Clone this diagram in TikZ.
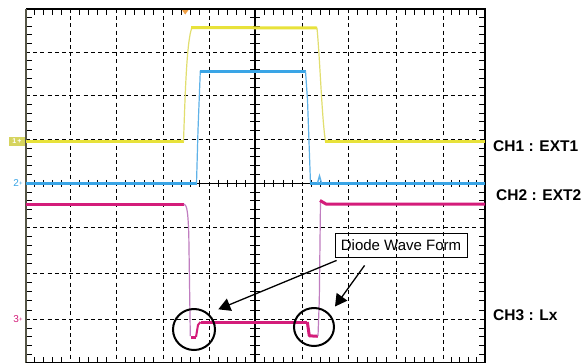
\documentclass[tikz,border=0pt]{standalone}
\usepackage{fontspec}
\setmainfont{Liberation Sans}
\usetikzlibrary{arrows.meta,shapes.geometric}
\definecolor{ytrace}{RGB}{232,226,58}
\definecolor{yedgec}{RGB}{225,222,110}
\definecolor{btrace}{RGB}{58,165,230}
\definecolor{bedgec}{RGB}{95,178,232}
\definecolor{mtrace}{RGB}{212,28,122}
\definecolor{medgec}{RGB}{192,125,192}
\definecolor{frameleft}{RGB}{85,85,70}
\definecolor{trigorange}{RGB}{240,160,70}
\definecolor{onebox}{RGB}{214,212,95}
\begin{document}
\begin{tikzpicture}[x=1pt,y=-1pt,
  gridline/.style={black,line width=0.9pt,dash pattern=on 4pt off 3.2pt},
  axisline/.style={black,line width=1.3pt},
  tickmark/.style={black,line width=1pt},
  yflat/.style={ytrace,line width=3pt},
  yedge/.style={yedgec,line width=1.2pt},
  bflat/.style={btrace,line width=3pt},
  bedge/.style={bedgec,line width=1.2pt},
  mflat/.style={mtrace,line width=3pt,line join=round},
  medge/.style={medgec,line width=1.2pt},
  circmark/.style={draw=black,line width=2pt,ellipse,inner sep=0pt},
  callout/.style={draw=black,line width=0.8pt,inner sep=0pt,font=\fontsize{15}{18}\selectfont},
  chlabel/.style={anchor=west,inner sep=0pt,font=\fontsize{15.5}{18}\selectfont\bfseries},
  pointer/.style={black,line width=1.3pt,-{Triangle[length=12pt,width=13pt]}},
  chtag/.style={inner sep=0pt,font=\fontsize{10}{12}\selectfont}
]
\useasboundingbox (0,0) rectangle (583,362);
\fill[white] (0,0) rectangle (583,362);

% grid
\foreach \x in {70,116,163,209,302,348,396,443}
  \draw[gridline] (\x,9) -- (\x,363);
\foreach \y in {52.3,95.7,139.3,227.3,273,319.3}
  \draw[gridline] (26,\y) -- (485,\y);
\draw[axisline] (255,9) -- (255,363);
\draw[axisline] (26,183.3) -- (485,183.3);

% minor ticks (horizontal direction)
\foreach \a/\b in {26/70,70/116,116/163,163/209,209/255,255/302,302/348,348/396,396/443,443/485}{
  \foreach \i in {1,...,4}{
    \pgfmathsetmacro\t{\a+(\b-\a)*\i/5}
    \draw[tickmark] (\t,9) -- (\t,15);
    \draw[tickmark] (\t,363) -- (\t,357);
    \draw[tickmark] (\t,179.8) -- (\t,186.8);
  }
}
% minor ticks (vertical direction)
\foreach \a/\b in {9/52.3,52.3/95.7,95.7/139.3,139.3/183.3,183.3/227.3,227.3/273,273/319.3,319.3/363}{
  \foreach \i in {1,...,4}{
    \pgfmathsetmacro\t{\a+(\b-\a)*\i/5}
    \draw[tickmark] (26,\t) -- (32,\t);
    \draw[tickmark] (485,\t) -- (479,\t);
    \draw[tickmark] (250,\t) -- (260,\t);
  }
}
% frame
\draw[black,line width=1.1pt] (26,9) -- (485,9) -- (485,363);
\draw[frameleft,line width=2pt] (26,9) -- (26,363);
\draw[black,line width=1.1pt] (26,363) -- (485,363);

% trigger marker
\fill[trigorange] (182,10) -- (188.5,10) -- (185.2,14.5) -- cycle;

% channel tags on the left
\fill[onebox] (9,136.5) rectangle (25,145.5);
\node[chtag,white,font=\fontsize{7}{8}\selectfont\bfseries] (tag1) at (17,141) {1\,+};
\node[chtag,btrace] (tag2) at (18,183.5) {2\raisebox{1pt}{\fontsize{6}{6}\selectfont+}};
\node[chtag,mtrace] (tag3) at (18,319.5) {3\raisebox{1pt}{\fontsize{6}{6}\selectfont+}};

% yellow trace (CH1)
\draw[yflat] (26,141.5) -- (183.5,141.5);
\draw[yedge] (183.5,141.5) .. controls (185,100) and (186.5,40) .. (192,27.5);
\draw[yflat] (191,27.5) -- (317,28);
\draw[yedge] (317,28) .. controls (320,60) and (322,120) .. (325.5,141.5);
\draw[yflat] (325,141.5) -- (485,141.5);

% blue trace (CH2)
\draw[bflat] (26,183.6) -- (196.5,183.6);
\draw[bedge] (196.5,183.6) -- (198,130) -- (200.3,71);
\draw[bflat] (199.5,71) -- (305.5,71);
\draw[bedge] (305.5,71) -- (307.5,100) -- (310.5,183.6);
\draw[bflat] (310,183.6) -- (485,183.6);
\draw[bedge,line width=1.4pt] (317.5,183) -- (319.5,176) -- (321.5,183);

% magenta trace (CH3)
\draw[mflat] (26,204) -- (184,204);
\draw[medge] (184,204) .. controls (187,205) and (188,212) .. (188.8,235) -- (190.3,336);
\draw[mflat] (190.5,337.5) -- (196,337.5);
\draw[mtrace,line width=2pt] (196,337) -- (198,325) -- (200.5,322);
\draw[mflat] (200.5,322) -- (307.3,322);
\draw[mflat] (307.3,322) -- (309.3,335.8) -- (317.8,336.3);
\draw[medge] (318,336) -- (319.3,300) -- (320.5,201);
\draw[mflat] (320,200.5) -- (326,204) -- (485,204);

% channel labels
\node[chlabel] (ch1) at (493,146) {CH1 : EXT1};
\node[chlabel] (ch2) at (496,195) {CH2 : EXT2};
\node[chlabel] (ch3) at (493,315) {CH3 : Lx};

% circles
\node[circmark,minimum width=42pt,minimum height=41pt] (c1) at (194,329.5) {};
\node[circmark,minimum width=40pt,minimum height=38pt] (c2) at (314,327) {};

% callout
\node[callout,minimum width=132pt,minimum height=24pt] (box) at (401,245) {Diode Wave Form};
\coordinate (s1) at ([shift={(2,3)}]box.south west);
\coordinate (s2) at ([shift={(30,8)}]box.south west);
\coordinate (t1) at (218.3,309.3);
\coordinate (t2) at (335,306.5);
\draw[pointer] (s1) -- (t1);
\draw[pointer] (s2) -- (t2);
\end{tikzpicture}
\end{document}
